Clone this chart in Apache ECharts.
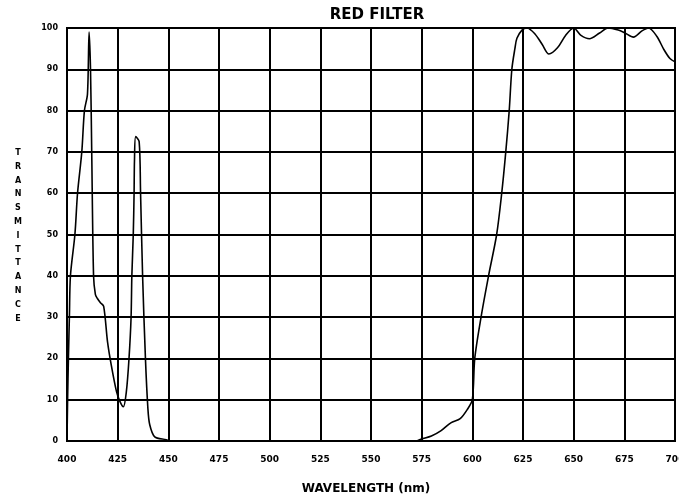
<!DOCTYPE html>
<html>
<head>
<meta charset="utf-8">
<script src="https://cdn.jsdelivr.net/npm/echarts@6/dist/echarts.min.js"></script>
<style>
  html, body { margin: 0; padding: 0; background: #ffffff; }
  #chart { width: 679px; height: 504px; }
</style>
</head>
<body>
<div id="chart"></div>
<script>
// Chart data
var chartTitle = 'RED FILTER';
var xAxisTitle = 'WAVELENGTH (nm)';
var yAxisTitle = 'TRANSMITTANCE';
var xTickValues = [400, 425, 450, 475, 500, 525, 550, 575, 600, 625, 650, 675, 700];
var yTickValues = [0, 10, 20, 30, 40, 50, 60, 70, 80, 90, 100];

var wavelengths = [400, 400.3, 400.7, 401.2, 401.7, 403.9, 405.2, 407.3, 408.6, 410.1, 410.9, 411.6, 412.2, 413.1,
  414.0, 415.0, 416.5, 418.1, 420.0, 421.8, 424.4, 426.1, 427.8, 429.3, 430.6, 431.6, 432.0, 432.7, 433.1, 433.3,
  433.9, 435.6, 436.3, 437.3, 438.7, 439.9, 440.8, 443.3, 449.0, 450.6, 500, 550, 572, 575, 579.8, 584.6, 589.4,
  594, 597.6, 600, 601.2, 604.3, 608.0, 612.0, 614.5, 616.5, 618.2, 619.5, 621, 622, 624.5, 627, 631, 634.5,
  637.8, 642, 646, 650, 653.6, 657.8, 662.8, 667, 672, 675.3, 679.5, 683.7, 687, 691, 694.5, 697.5, 700];
var transmittance = [0, 10, 20, 30.5, 40, 50, 60, 70, 80, 84, 99, 90, 70, 40,
  35.5, 34.5, 33.5, 32.6, 24, 18.5, 12, 9.6, 8.3, 12, 20, 29.7, 40, 50, 60, 68,
  73.7, 72.5, 60, 40, 20, 8, 4, 1, 0.3, 0, 0, 0, 0, 0.5, 1.2, 2.5, 4.4,
  5.4, 7.7, 10, 20, 30, 40, 50, 60, 70, 80, 90, 95, 97.5, 99.5, 100, 98.5, 96,
  93.7, 95.2, 98.2, 100, 98.2, 97.4, 98.8, 100, 99.5, 98.8, 97.8, 99.3, 100, 98, 94.8, 92.6, 91.8];

var seriesData = wavelengths.map(function (w, i) { return [w, transmittance[i]]; });

var chart = echarts.init(document.getElementById('chart'), null, { renderer: 'canvas' });
var font = 'DejaVu Sans';
chart.setOption({
  backgroundColor: '#ffffff',
  animation: false,
  grid: {
    left: 67, right: 4, top: 28, bottom: 63,
    outerBoundsMode: 'none', containLabel: false,
    show: true, borderColor: '#000', borderWidth: 2, backgroundColor: 'transparent'
  },
  graphic: [
    { type: 'text', style: {
        text: chartTitle, x: 377, y: 15, align: 'center', verticalAlign: 'middle',
        font: 'bold 15px "' + font + '"', fill: '#000' } },
    { type: 'text', style: {
        text: xAxisTitle, x: 366, y: 489, align: 'center', verticalAlign: 'middle',
        font: 'bold 12px "' + font + '"', fill: '#000' } },
    { type: 'text', style: {
        text: yAxisTitle.split('').join('\n'), x: 18, y: 146, align: 'center', verticalAlign: 'top',
        lineHeight: 13.8, font: 'bold 8px "' + font + '"', fill: '#000' } }
  ],
  xAxis: {
    type: 'value', min: xTickValues[0], max: xTickValues[xTickValues.length - 1], interval: 25,
    axisLine: { show: true, onZero: false, lineStyle: { color: '#000', width: 2 } },
    axisTick: { show: false },
    axisLabel: { color: '#000', fontFamily: font, fontWeight: 'bold', fontSize: 9, margin: 14,
      showMaxLabel: true, showMinLabel: true, hideOverlap: false },
    splitLine: { show: true, lineStyle: { color: '#000', width: 2 } }
  },
  yAxis: {
    type: 'value', min: yTickValues[0], max: yTickValues[yTickValues.length - 1], interval: 10,
    axisLine: { show: true, lineStyle: { color: '#000', width: 2 } },
    axisTick: { show: false },
    axisLabel: { color: '#000', fontFamily: font, fontWeight: 'bold', fontSize: 8, margin: 9 },
    splitLine: { show: true, lineStyle: { color: '#000', width: 2 } }
  },
  series: [{
    type: 'line', data: seriesData, showSymbol: false, symbol: 'none',
    smooth: 0.3,
    clip: true,
    lineStyle: { color: '#000', width: 1.6 }
  }]
});
</script>
</body>
</html>
